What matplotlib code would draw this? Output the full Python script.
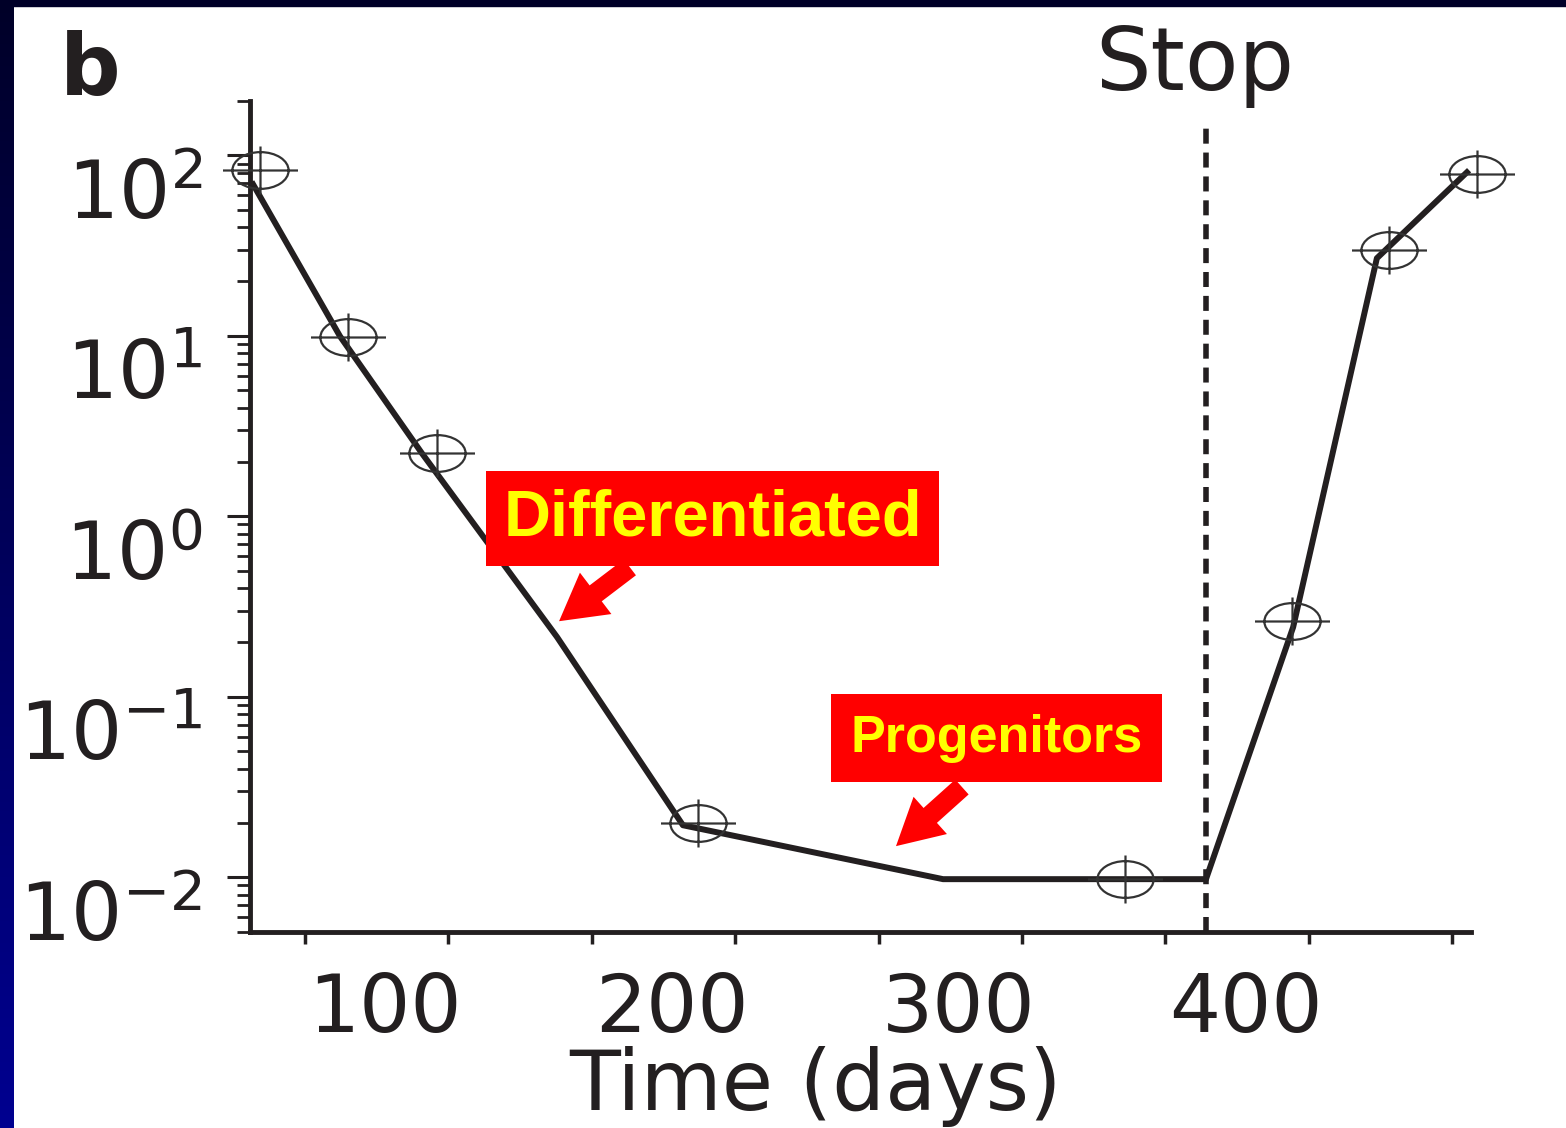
import numpy as np
import matplotlib
matplotlib.use('Agg')
import matplotlib.pyplot as plt
import matplotlib.transforms as mtransforms
from matplotlib.path import Path
from matplotlib.patches import Rectangle
from matplotlib.colors import LinearSegmentedColormap
from matplotlib.ticker import LogLocator, NullFormatter

obs_days = [34.3, 65.0, 96.0, 187.1, 336.0, 394.2, 428.0, 458.7]
obs_level = [82.6, 9.9, 2.23, 0.0199, 0.00975, 0.262, 29.8, 78.5]

model_days = [31.9, 62.2, 90.8, 137.9, 181.8, 272.5, 364.2, 394.6, 423.8, 455.2]
model_level = [69.0, 9.94, 2.23, 0.214, 0.0194, 0.00975, 0.00975, 0.243, 26.9, 80.5]

stop_day = 364.2

x_ticks = [50, 100, 150, 200, 250, 300, 350, 400, 450]
x_tick_labels = ['', '100', '', '200', '', '300', '', '400', '']
y_ticks = [1e-2, 1e-1, 1e0, 1e1, 1e2]
y_tick_labels = [r'$10^{-2}$', r'$10^{-1}$', r'$10^{0}$', r'$10^{1}$', r'$10^{2}$']

INK = '#231f20'

plt.rcParams['font.family'] = ['DejaVu Sans']
plt.rcParams['mathtext.fontset'] = 'dejavusans'

fig = plt.figure(figsize=(15.66, 11.28), dpi=100)
ax = fig.add_axes([0.1596, 0.1742, 0.7797, 0.7363])

# circle + crosshair marker
circ = Path.unit_circle()
ellipse = Path(circ.vertices * [0.75, 0.49], circ.codes)
hline = Path([[-1, 0], [1, 0]], [Path.MOVETO, Path.LINETO])
vline = Path([[0, -0.64], [0, 0.64]], [Path.MOVETO, Path.LINETO])
target = Path.make_compound_path(ellipse, hline, vline)

ax.plot(model_days, model_level, c=INK, lw=4.3, zorder=3, clip_on=False)
ax.plot(obs_days, obs_level, ls='none', marker=target, ms=54, mfc='none',
        mec='#333333', mew=1.6, zorder=4, clip_on=False)

# treatment stop
ax.plot([stop_day, stop_day], [5e-3, 146], c=INK, lw=4, ls=(0, (2.7, 1.6)),
        dash_capstyle='butt', zorder=2, clip_on=False)
ax.text(stop_day - 4, 10 ** 2.36, 'Stop', fontsize=63, color=INK,
        ha='center', va='baseline')

ax.set_yscale('log')
ax.set_xlim(30.8, 456.6)
ax.set_ylim(5e-3, 2e2)

ax.set_xticks(x_ticks, x_tick_labels)
ax.set_yticks(y_ticks, y_tick_labels)
ax.yaxis.set_minor_locator(LogLocator(base=10, subs=np.arange(2, 10)))
ax.yaxis.set_minor_formatter(NullFormatter())

for side in ['top', 'right']:
    ax.spines[side].set_visible(False)
for side in ['left', 'bottom']:
    ax.spines[side].set_linewidth(3.5)
    ax.spines[side].set_color(INK)

ax.tick_params(axis='y', which='major', direction='out', length=16.5, width=2.2,
               color=INK, labelsize=58, labelcolor=INK, pad=18)
ax.tick_params(axis='y', which='minor', direction='out', length=9.4, width=2.0,
               color=INK)
ax.tick_params(axis='x', which='major', direction='out', length=8.6, width=2.5,
               color=INK, labelsize=58, labelcolor=INK, pad=20)

ax.set_xlabel('Time (days)', fontsize=60, color=INK)
ax.xaxis.set_label_coords(0.463, -0.138)

# annotations
ax.annotate('', xy=(138.6, 0.262), xytext=(163.3, 0.521),
            arrowprops=dict(arrowstyle='simple,head_length=0.46,head_width=0.52,tail_width=0.2',
                            fc='#ff0000', ec='none', mutation_scale=72,
                            shrinkA=0, shrinkB=0), zorder=5)
ax.annotate('', xy=(256.1, 0.01486), xytext=(279.1, 0.0316),
            arrowprops=dict(arrowstyle='simple,head_length=0.46,head_width=0.5,tail_width=0.2',
                            fc='#ff0000', ec='none', mutation_scale=72,
                            shrinkA=0, shrinkB=0), zorder=5)
ax.text(192.1, 0.968, 'Differentiated', fontsize=46.8, fontweight='bold',
        family=['Liberation Sans', 'DejaVu Sans'], color='#ffff00',
        ha='center', va='center', zorder=6,
        bbox=dict(boxstyle='square,pad=0.27', fc='#ff0000', ec='none'))
ax.text(291.2, 0.0589, 'Progenitors', fontsize=37.5, fontweight='bold',
        family=['Liberation Sans', 'DejaVu Sans'], color='#ffff00',
        ha='center', va='center', zorder=6,
        bbox=dict(boxstyle='square,pad=0.37', fc='#ff0000', ec='none'))

fig.text(0.0385, 1 - 95 / 1128, 'b', fontsize=61, fontweight='bold', color=INK,
         va='baseline')

# tick labels sit offset from their ticks in the original
fig.canvas.draw()
dx = mtransforms.ScaledTranslation(-63 / 100, 0, fig.dpi_scale_trans)
dy = mtransforms.ScaledTranslation(0, -33 / 100, fig.dpi_scale_trans)
for lab in ax.get_xticklabels():
    lab.set_transform(lab.get_transform() + dx)
for lab in ax.get_yticklabels():
    lab.set_transform(lab.get_transform() + dy)

# slide frame
edge = LinearSegmentedColormap.from_list('edge', ['#000028', '#000090'])
frame_ax = fig.add_axes([0, 0, 14 / 1566, 1], zorder=10)
frame_ax.imshow(np.linspace(0, 1, 256).reshape(-1, 1), aspect='auto', cmap=edge)
frame_ax.axis('off')
fig.add_artist(Rectangle((0, 1 - 6 / 1128), 1, 6 / 1128, transform=fig.transFigure,
                         color='#000028', zorder=10))

fig.savefig('out.png', dpi=100)
